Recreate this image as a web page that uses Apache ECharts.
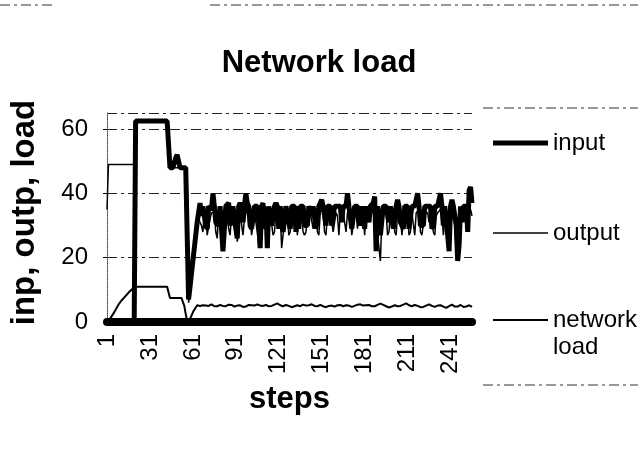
<!DOCTYPE html>
<html><head><meta charset="utf-8">
<script src="https://cdn.jsdelivr.net/npm/echarts@6.0.0/dist/echarts.min.js"></script>
<style>html,body{margin:0;padding:0;background:#fff}#c{width:638px;height:459px}</style>
</head><body><div id="c"></div>
<script>
// x categories: simulation steps 1..256
const steps = [];
for (let i = 1; i <= 256; i++) steps.push(String(i));
const yTicks = [0, 20, 40, 60];

// input (thick line)
const inputLoad = [
  null,null,null,null,null,null,null,null,null,null,null,null,null,null,null,null,null,null,null,
  0,
  62.5,62.5,62.5,62.5,62.5,62.5,62.5,62.5,62.5,62.5,62.5,62.5,62.5,62.5,62.5,62.5,62.5,62.5,62.5,62.5,62.5,62.5,62.5,62.5,
  48,48,48,48, 51,52,50, 48,48,48,48,48,48,
  7, 11,15,19,23,27,31,34,37,
  33,36,36,30,29,36,36,35,40,36,
  31,31,30,36,36,22,29,36,36,37,
  30,30,36,36,29,26,36,37,36,31,
  36,40,37,36,30,29,29,36,36,36,
  31,23,36,37,29,36,23,36,36,30,
  30,36,37,36,29,36,36,28,28,36,
  36,31,29,36,36,36,28,36,29,36,
  36,36,30,30,30,36,36,33,36,36,
  29,29,36,36,38,36,36,30,36,36,
  36,30,30,36,36,36,36,36,31,36,
  36,36,40,36,36,29,29,36,36,36,
  36,30,36,36,29,36,36,31,36,36,
  37,39,22,36,36,27,27,36,36,36,
  36,31,36,36,29,29,36,38,36,31,
  30,29,36,36,36,29,29,36,36,36,
  36,40,36,30,30,30,36,36,36,36,
  36,29,30,36,36,36,36,40,36,30,
  36,36,27,22,36,38,36,36,30,19,
  24,36,31,36,36,36,28,41,42,37
];

// output (thin line)
const outputLoad = [
  35,
  49,49,49,49,49,49,49,49,49,49,49,49,49,49,49,49,49,49,49,
  62.5,62.5,62.5,62.5,62.5,62.5,62.5,62.5,62.5,62.5,62.5,62.5,62.5,62.5,62.5,62.5,62.5,62.5,62.5,62.5,62.5,62.5,62.5,62.5,
  48,48,48,48,48,48,48,48,48,48,48,48,48,
  6, 10,14,19,23,27,30,32,31,
  30,28,34,33,27,27,32,34,34,34,
  28,26,34,34,33,31,27,33,34,29,
  27,33,34,35,34,25,28,34,34,27,
  32,34,35,34,33,27,30,34,34,28,
  24,30,34,35,34,28,27,33,34,34,
  27,28,34,34,33,34,23,27,33,34,
  35,27,28,34,34,31,34,27,33,35,
  34,28,27,28,34,34,34,34,29,33,
  34,28,27,34,35,34,28,27,34,34,
  34,34,28,28,34,33,27,34,34,34,
  34,28,34,35,34,27,27,33,34,29,
  34,34,34,33,27,34,34,34,34,35,
  34,34,34,27,27,19,32,34,34,34,
  27,28,34,34,34,28,27,34,34,34,
  27,27,34,35,34,27,28,34,34,27,
  34,34,35,28,27,27,34,34,34,31,
  34,34,28,27,33,34,34,35,34,27,
  33,34,34,25,27,35,34,30,22,20,
  24,28,34,36,34,33,34,34,35,33
];

// network load (thin line)
const networkLoad = [
  0,0.3,0.9,1.6,2.3,3.0,3.8,4.6,5.4,6.0,6.6,7.1,7.6,8.1,8.6,9.1,9.6,10.0,10.4,10.8,
  11,11,11,11,11,11,11,11,11,11,11,11,11,11,11,11,11,11,11,11,11,11,11,11,
  7.5,7.5,7.5,7.5,7.5,7.5,7.5,7.5,7.5,7.5,
  5,2.5,0.3,0,
  1,2,3,3.8,4.5,5.2,
  5.3,5.0,4.8,5.2,5.4,5.1,4.9,5.0,5.3,5.5,5.2,4.9,
  4.7,4.9,5.2,5.3,5.1,5.0,4.8,4.9,5.2,5.4,5.6,5.3,
  5.0,4.8,4.9,5.1,5.3,5.2,5.0,4.7,4.6,4.8,5.1,5.3,
  5.4,5.2,5.0,5.1,5.3,5.5,5.4,5.1,4.9,5.0,5.2,5.3,
  5.1,4.9,4.8,5.0,5.2,5.4,5.6,5.8,5.5,5.2,5.0,4.9,
  5.1,5.3,5.2,5.0,4.8,4.6,4.7,4.9,5.1,5.2,5.0,4.9,
  5.2,5.4,5.3,5.1,5.0,5.2,5.4,5.5,5.3,5.0,4.8,4.9,
  5.1,5.3,5.1,4.9,4.7,4.6,4.8,5.0,5.2,5.1,4.9,4.8,
  5.0,5.2,5.4,5.3,5.1,4.9,5.0,5.2,5.3,5.1,4.9,4.7,
  4.8,5.0,5.2,5.4,5.6,5.5,5.3,5.1,5.0,5.2,5.4,5.3,
  5.1,4.9,4.8,4.9,5.1,5.3,5.5,5.7,5.6,5.3,5.1,4.9,
  4.7,4.5,4.6,4.8,5.0,5.2,5.1,4.9,4.8,5.0,5.2,5.4,
  5.6,5.8,5.5,5.2,5.0,4.9,5.1,5.3,5.2,5.0,4.8,4.6,
  4.5,4.7,4.9,5.1,5.3,5.5,5.3,5.0,4.8,4.7,4.9,5.1,
  5.3,5.2,5.0,4.8,4.5,4.4,4.6,4.9,5.2,5.4,5.1,4.8,
  4.6,4.8,5.1,5.3,5.0,4.7,4.5,4.8,5.1,5.2,4.9,4.7
];

const F = "'Liberation Sans', Arial, Helvetica, sans-serif";
const chart = echarts.init(document.getElementById('c'), null, {renderer: 'canvas'});
const legendBase = {
  orient: 'vertical', left: 493, itemWidth: 55, padding: 0, icon: 'rect', selectedMode: false,
  itemStyle: {color: '#000', borderWidth: 0},
  textStyle: {fontSize: 24, color: '#000', fontFamily: F, lineHeight: 27}
};
const dashed = {stroke: '#333', lineWidth: 1, lineDash: [10, 4, 3, 4]};
chart.setOption({
  animation: false,
  backgroundColor: '#fff',
  title: {
    text: 'Network load', left: 'center', top: 43,
    textStyle: {fontSize: 31, fontWeight: 'bold', color: '#000', fontFamily: F}
  },
  grid: {left: 107, right: 166, top: 113, bottom: 137, containLabel: false},
  legend: [
    Object.assign({}, legendBase, {data: ['input'], top: 129.5, itemHeight: 5}),
    Object.assign({}, legendBase, {data: ['output'], top: 219.5, itemHeight: 1.5}),
    Object.assign({}, legendBase, {data: ['network load'], top: 279.5, itemHeight: 2,
      formatter: function (n) { return ' \nnetwork\nload'; }})
  ],
  xAxis: {
    type: 'category', data: steps, boundaryGap: false, offset: 4,
    name: 'steps', nameLocation: 'middle', nameGap: 58,
    nameTextStyle: {fontSize: 31, fontWeight: 'bold', color: '#000', fontFamily: F},
    axisLine: {lineStyle: {color: '#000', width: 8}},
    axisTick: {show: false},
    axisLabel: {interval: 29, rotate: 90, fontSize: 24, color: '#000', fontFamily: F, margin: 8},
    splitLine: {show: false}
  },
  yAxis: {
    type: 'value', min: yTicks[0], max: 65, interval: 20,
    name: 'inp, outp, load', nameLocation: 'middle', nameRotate: 90, nameGap: 66,
    nameTextStyle: {fontSize: 33, fontWeight: 'bold', color: '#000', fontFamily: F, padding: [0, 0, 0, 10]},
    axisLine: {show: true, lineStyle: {color: '#444', width: 1, type: 'dotted'}},
    axisTick: {show: true, length: 4, lineStyle: {color: '#000'}},
    axisLabel: {fontSize: 24, color: '#000', fontFamily: F, margin: 19, showMaxLabel: false,
      formatter: function (v) { return yTicks.indexOf(v) >= 0 ? String(v) : ''; }},
    splitLine: {show: true, lineStyle: {color: '#222', width: 1, type: [10, 4, 3, 4]}}
  },
  graphic: [
    {type: 'line', silent: true, shape: {x1: 0, y1: 5, x2: 55, y2: 5}, style: dashed},
    {type: 'line', silent: true, shape: {x1: 210, y1: 5, x2: 638, y2: 5}, style: dashed},
    {type: 'line', silent: true, shape: {x1: 483, y1: 108, x2: 638, y2: 108}, style: dashed},
    {type: 'line', silent: true, shape: {x1: 483, y1: 385, x2: 638, y2: 385}, style: dashed}
  ],
  series: [
    {name: 'input', type: 'line', data: inputLoad, symbol: 'none', connectNulls: false,
      lineStyle: {color: '#000', width: 5}, itemStyle: {color: '#000'}, z: 2},
    {name: 'output', type: 'line', data: outputLoad, symbol: 'none',
      lineStyle: {color: '#000', width: 1.5}, itemStyle: {color: '#000'}, z: 3},
    {name: 'network load', type: 'line', data: networkLoad, symbol: 'none',
      lineStyle: {color: '#000', width: 2}, itemStyle: {color: '#000'}, z: 4}
  ]
});
</script>
</body></html>
